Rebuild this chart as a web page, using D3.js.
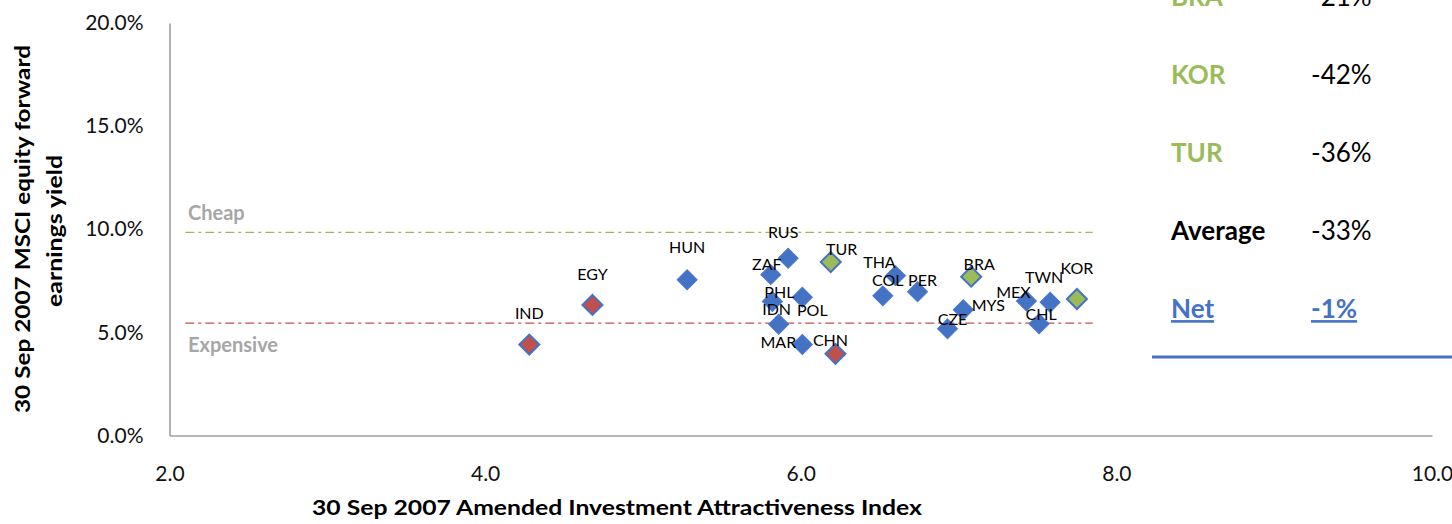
<!DOCTYPE html>
<html>
<head>
<meta charset="utf-8">
<script src="https://cdn.jsdelivr.net/npm/d3@7"></script>
<style>
  body { margin: 0; background: #fff; }
  svg { display: block; }
  text { font-family: Lato, "Open Sans", "Liberation Sans", sans-serif; }
</style>
</head>
<body>
<svg id="chart" width="1452" height="524"></svg>
<script>
// Emerging-market countries: attractiveness index vs forward earnings yield (%)
const countries = ["IND", "EGY", "HUN", "RUS", "ZAF", "TUR", "PHL", "POL", "IDN", "MAR", "CHN",
                   "THA", "COL", "PER", "BRA", "MYS", "CZE", "MEX", "TWN", "CHL", "KOR"];
const attractiveness = [4.28, 4.68, 5.28, 5.92, 5.81, 6.19, 5.82, 6.01, 5.86, 6.01, 6.22,
                        6.60, 6.52, 6.74, 7.08, 7.03, 6.93, 7.43, 7.58, 7.51, 7.75];
const earningsYield = [4.41, 6.33, 7.55, 8.59, 7.80, 8.41, 6.50, 6.70, 5.39, 4.41, 3.96,
                       7.75, 6.77, 6.97, 7.70, 6.10, 5.17, 6.52, 6.46, 5.42, 6.62];
const positioning = ["under", "under", "neutral", "neutral", "neutral", "over", "neutral", "neutral",
                     "neutral", "neutral", "under", "neutral", "neutral", "neutral", "over", "neutral",
                     "neutral", "neutral", "neutral", "neutral", "over"];

// Valuation thresholds (earnings yield, %) and the index span they are drawn across
const cheapLevel = 9.85;
const expensiveLevel = 5.45;
const thresholdSpan = [2.1, 7.85];

// Axis ticks
const xTicks = [2, 4, 6, 8, 10];
const yTicks = [0, 5, 10, 15, 20];

// Side table
const tableLabels = ["BRA", "KOR", "TUR", "Average", "Net"];
const tableValues = ["-21%", "-42%", "-36%", "-33%", "-1%"];
const tableKinds = ["over", "over", "over", "avg", "net"];

// ---- layout & style ----
const W = 1452, H = 524;
const svg = d3.select("#chart");
const x = d3.scaleLinear().domain([2, 10]).range([169.5, 1432]);
const y = d3.scaleLinear().domain([0, 20]).range([435.5, 23]);

const fillByPos = { under: "#C0504D", over: "#9BBB59", neutral: "#4472C4" };
const axisColor = "#A0A0A0";

// label placement (pixel offset of label centre from marker centre)
const labelOffset = {
  IND: [0, -31], EGY: [0, -31], HUN: [0, -32], RUS: [-5, -26], ZAF: [-4, -10],
  TUR: [11, -13], PHL: [7, -9], POL: [10, 13], IDN: [-2, -15], MAR: [-24, -2],
  CHN: [-5, -13], THA: [-16, -13], COL: [5, -15], PER: [5, -11], BRA: [8, -12],
  MYS: [25, -4], CZE: [5, -9], MEX: [-13, -9], TWN: [-6, -25], CHL: [2, -9], KOR: [0, -31]
};

// ---- axes ----
const xAxis = svg.append("g")
  .attr("transform", `translate(0,${y(0)})`)
  .call(d3.axisBottom(x).tickValues(xTicks).tickFormat(d3.format(".1f"))
        .tickSize(0).tickSizeOuter(0).tickPadding(31));
const yAxis = svg.append("g")
  .attr("transform", `translate(${x(2)},0)`)
  .call(d3.axisLeft(y).tickValues(yTicks).tickFormat(d => d.toFixed(1) + "%")
        .tickSize(0).tickSizeOuter(0).tickPadding(26));
[xAxis, yAxis].forEach(g => {
  g.select(".domain").attr("stroke", axisColor).attr("stroke-width", 1.6);
  g.selectAll("text").attr("font-size", 21).attr("fill", "#111")
    .style("font-family", "Lato, 'Open Sans', sans-serif");
});

// ---- axis titles ----
const yTitle = svg.append("g").attr("font-weight", "bold").attr("font-size", 20).attr("fill", "#000");
yTitle.append("text")
  .attr("transform", "translate(23,229) rotate(-90)")
  .attr("text-anchor", "middle").attr("dy", "0.35em")
  .attr("textLength", 368).attr("lengthAdjust", "spacingAndGlyphs")
  .text("30 Sep 2007 MSCI equity forward");
yTitle.append("text")
  .attr("transform", "translate(55,231) rotate(-90)")
  .attr("text-anchor", "middle").attr("dy", "0.35em")
  .attr("textLength", 152).attr("lengthAdjust", "spacingAndGlyphs")
  .text("earnings yield");

svg.append("text")
  .attr("x", 617).attr("y", 508).attr("dy", "0.35em")
  .attr("text-anchor", "middle").attr("font-weight", "bold").attr("font-size", 20)
  .attr("textLength", 610).attr("lengthAdjust", "spacingAndGlyphs")
  .text("30 Sep 2007 Amended Investment Attractiveness Index");

// ---- threshold lines ----
const thresholds = [
  { level: cheapLevel, color: "#9BBB59", label: "Cheap", labelY: 213 },
  { level: expensiveLevel, color: "#C0504D", label: "Expensive", labelY: 345 }
];
thresholds.forEach(t => {
  svg.append("line")
    .attr("x1", x(thresholdSpan[0])).attr("x2", x(thresholdSpan[1]))
    .attr("y1", y(t.level)).attr("y2", y(t.level))
    .attr("stroke", t.color).attr("stroke-width", 1.4)
    .attr("stroke-dasharray", "9,4,3,4");
  svg.append("text")
    .attr("x", 188).attr("y", t.labelY).attr("dy", "0.35em")
    .attr("font-size", 20).attr("font-weight", "bold").attr("fill", "#A6A6A6")
    .text(t.label);
});

// ---- markers ----
const points = countries.map((c, i) => ({
  name: c, ax: attractiveness[i], ey: earningsYield[i], pos: positioning[i]
}));
const diamond = d3.symbol().type(d3.symbolSquare).size(200);
svg.append("g").selectAll("path").data(points).join("path")
  .attr("d", diamond)
  .attr("transform", d => `translate(${x(d.ax)},${y(d.ey)}) rotate(45)`)
  .attr("fill", d => fillByPos[d.pos])
  .attr("stroke", d => d.pos === "neutral" ? "#4A78CC" : "#4472C4")
  .attr("stroke-width", d => d.pos === "neutral" ? 1 : 2);

svg.append("g").selectAll("text").data(points).join("text")
  .attr("x", d => x(d.ax) + labelOffset[d.name][0])
  .attr("y", d => y(d.ey) + labelOffset[d.name][1])
  .attr("dy", "0.35em").attr("text-anchor", "middle")
  .attr("font-size", 16).attr("fill", "#000")
  .text(d => d.name);

// ---- side table ----
const rowY0 = -3, rowStep = 78;
const table = svg.append("g").attr("font-size", 26);
tableLabels.forEach((lab, i) => {
  const kind = tableKinds[i];
  const cy = rowY0 + i * rowStep;
  const labelColor = kind === "over" ? "#9BBB59" : kind === "net" ? "#4472C4" : "#000";
  const lt = table.append("text")
    .attr("x", 1171).attr("y", cy).attr("dy", "0.35em")
    .attr("font-weight", "bold").attr("fill", labelColor).text(lab);
  const vt = table.append("text")
    .attr("x", 1311).attr("y", cy).attr("dy", "0.35em")
    .attr("fill", kind === "net" ? "#4472C4" : "#000")
    .attr("font-weight", kind === "net" ? "bold" : "normal")
    .text(tableValues[i]);
  if (kind === "net") {
    lt.style("text-decoration", "underline");
    vt.style("text-decoration", "underline");
  }
});
svg.append("line")
  .attr("x1", 1152).attr("x2", W).attr("y1", 357).attr("y2", 357)
  .attr("stroke", "#4472C4").attr("stroke-width", 3);
</script>
</body>
</html>
